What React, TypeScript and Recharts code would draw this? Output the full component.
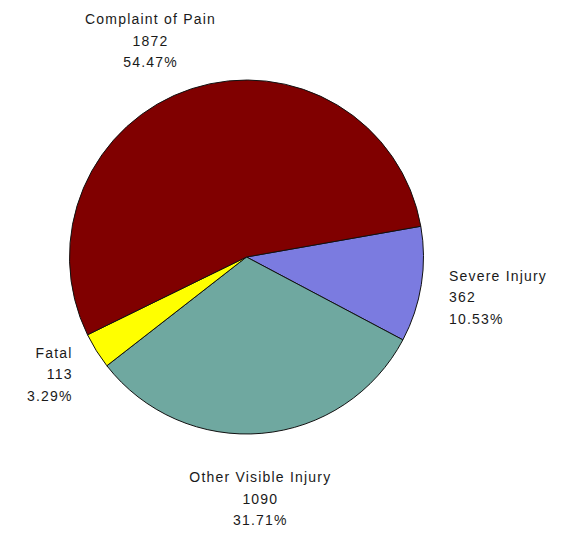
import React from "react";
import { PieChart, Pie, Cell } from "recharts";

const categories = ["Severe Injury", "Other Visible Injury", "Fatal", "Complaint of Pain"];
const counts = [362, 1090, 113, 1872];
const colors = ["#7B7BE0", "#6FA8A0", "#FFFF00", "#800000"];

const data = categories.map((name, i) => ({ name, value: counts[i] }));

const RAD = Math.PI / 180;
const LINE = 21.5;

const renderLabel = (props: any) => {
  const { cx, cy, midAngle, outerRadius, name, value, percent } = props;
  const cos = Math.cos(-midAngle * RAD);
  const sin = Math.sin(-midAngle * RAD);
  const r = outerRadius + 28;
  let px = cx + r * cos;
  const py = cy + r * sin;
  let anchor: "start" | "middle" | "end" = "middle";
  let firstBaseline: number;
  if (Math.abs(cos) > 0.6) {
    anchor = cos > 0 ? "start" : "end";
    firstBaseline = py - 8;
  } else if (sin > 0) {
    px = px - 4;
    firstBaseline = py + 21;
  } else {
    px = px + cos * 105;
    firstBaseline = py + 5 - 2 * LINE;
  }
  const lines = [name, String(value), (percent * 100).toFixed(2) + "%"];
  return (
    <text
      x={px}
      y={firstBaseline}
      textAnchor={anchor}
      fill="#1a1a1a"
      fontFamily="'Liberation Sans', Arial, sans-serif"
      fontSize={14}
      letterSpacing={1.2}
    >
      {lines.map((t, i) => (
        <tspan key={i} x={px} y={firstBaseline + i * LINE}>
          {t}
        </tspan>
      ))}
    </text>
  );
};

export default function App() {
  return (
    <div style={{ position: "absolute", left: 0, top: 0, background: "#fff" }}>
      <PieChart width={574} height={533} margin={{ top: 0, right: 0, bottom: 0, left: 0 }}>
        <Pie
          data={data}
          dataKey="value"
          nameKey="name"
          cx={246.5}
          cy={257}
          outerRadius={177}
          startAngle={10}
          endAngle={-350}
          stroke="#111"
          strokeWidth={1}
          label={renderLabel}
          labelLine={false}
          isAnimationActive={false}
        >
          {data.map((d, i) => (
            <Cell key={d.name} fill={colors[i]} />
          ))}
        </Pie>
      </PieChart>
    </div>
  );
}
